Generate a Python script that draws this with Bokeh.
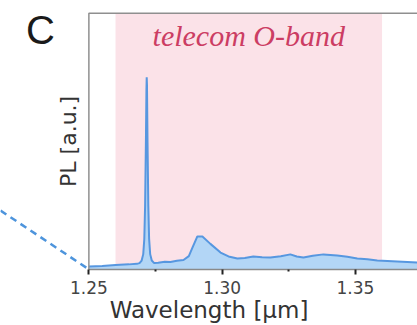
import math
from bokeh.plotting import figure
from bokeh.models import BoxAnnotation, Label, Range1d, FixedTicker, ColumnDataSource
from bokeh.embed import file_html
from bokeh.resources import INLINE

# ---- data ----
wavelength = [1.2500, 1.2550, 1.2600, 1.2650, 1.2680, 1.2690, 1.2698, 1.2704,
              1.2708, 1.2711, 1.2714, 1.2716, 1.2717, 1.2718, 1.2720, 1.2723,
              1.2726, 1.2730, 1.2736, 1.2745, 1.2760, 1.2785, 1.2806, 1.2830,
              1.2855, 1.2875, 1.2889, 1.2907, 1.2926, 1.2956, 1.2994, 1.3024,
              1.3057, 1.3085, 1.3117, 1.3150, 1.3181, 1.3220, 1.3256, 1.3280,
              1.3305, 1.3340, 1.3380, 1.3432, 1.3470, 1.3507, 1.3545, 1.3582,
              1.3620, 1.3657, 1.3695, 1.3733]
pl = [0.012, 0.014, 0.018, 0.020, 0.022, 0.025, 0.035, 0.060,
      0.120, 0.250, 0.500, 0.700, 0.750, 0.720, 0.500, 0.250,
      0.120, 0.060, 0.035, 0.025, 0.026, 0.030, 0.029, 0.034,
      0.037, 0.052, 0.086, 0.129, 0.129, 0.100, 0.066, 0.051,
      0.043, 0.045, 0.051, 0.048, 0.047, 0.052, 0.059, 0.051,
      0.047, 0.054, 0.059, 0.055, 0.050, 0.043, 0.040, 0.035,
      0.033, 0.031, 0.029, 0.027]
band = [1.26, 1.36]
band_label = "telecom O-band"
x_ticks = [1.25, 1.30, 1.35]
x_minor_ticks = [1.275, 1.325]
x_label = "Wavelength [µm]"
y_label = "PL [a.u.]"
panel_letter = "C"
axes_x = [1.25, 1.3733]      # data extent of the axes box
axes_y = [0.0, 1.0]
# dashed zoom-connector line coming in from the left panel
zoom_line_x = [1.2131, 1.2495]
zoom_line_y = [0.256, 0.004]

# ---- layout constants (pixels) ----
W, H = 417, 325
FRAME_BOTTOM_PX = 56
PX_PER_X = 2666.0            # px per µm unit
PX_PER_Y = 256.3             # px per PL unit
axes_left_px = 88.4

x0 = axes_x[0] - axes_left_px / PX_PER_X
x1 = axes_x[1]
y_end = (H - FRAME_BOTTOM_PX) / PX_PER_Y

def dx(px):  # pixel offset -> data x offset
    return px / PX_PER_X

def y_at(canvas_y):  # canvas y (from top) -> data y
    return (H - FRAME_BOTTOM_PX - canvas_y) / PX_PER_Y

src = ColumnDataSource(dict(x=wavelength, y=pl, base=[0.0] * len(pl)))

p = figure(width=W, height=H, output_backend="svg", toolbar_location=None,
           x_range=Range1d(x0, x1), y_range=Range1d(0, y_end),
           min_border_left=0, min_border_right=0, min_border_top=0,
           min_border_bottom=FRAME_BOTTOM_PX)
p.outline_line_color = None
p.grid.visible = False
p.yaxis.visible = False

# pink band
p.add_layout(BoxAnnotation(left=band[0], right=band[1], bottom=axes_y[0], top=axes_y[1],
                           fill_color="#fbe2e8", fill_alpha=1.0, line_color=None,
                           level="underlay"))

# spectrum
p.varea(x="x", y1="base", y2="y", source=src, fill_color="#b3d6f6", fill_alpha=1.0)
p.line(x="x", y="y", source=src, line_color="#5797e0", line_width=2)

# left and top spines
p.line(x=[axes_x[0], axes_x[0], axes_x[1]], y=[axes_y[0], axes_y[1], axes_y[1]],
       line_color="#8f8f8f", line_width=1.5)

# dashed connector
p.line(x=zoom_line_x, y=zoom_line_y, line_color="#4d94dc", line_width=2.5,
       line_dash="7 5")

# x axis
xa = p.xaxis[0]
xa.bounds = (axes_x[0], axes_x[1])
xa.ticker = FixedTicker(ticks=x_ticks, minor_ticks=x_minor_ticks)
xa.major_label_overrides = {1.25: "1.25", 1.30: "1.30", 1.35: "1.35"}
xa.axis_line_color = "#8a8a8a"
xa.axis_line_width = 1.5
xa.major_tick_line_color = "#222222"
xa.major_tick_line_width = 2
xa.major_tick_out = 5
xa.major_tick_in = 0
xa.minor_tick_line_color = "#222222"
xa.minor_tick_line_width = 2
xa.minor_tick_out = 2
xa.minor_tick_in = 0
xa.major_label_text_font = "DejaVu Sans"
xa.major_label_text_font_size = "17px"
xa.major_label_text_color = "#444444"
xa.major_label_standoff = 6
xa.axis_label = x_label
xa.axis_label_text_font = "DejaVu Sans"
xa.axis_label_text_font_size = "23px"
xa.axis_label_text_font_style = "normal"
xa.axis_label_text_color = "#333333"
xa.axis_label_standoff = 0

# y label (rotated)
p.add_layout(Label(x=axes_x[0] - dx(20), y=(axes_y[0] + axes_y[1]) / 2,
                   text=y_label, angle=math.pi / 2, text_align="center",
                   text_baseline="middle", text_font="DejaVu Sans",
                   text_font_size="22px", text_color="#333333"))

# band title
p.add_layout(Label(x=(band[0] + band[1]) / 2, y=y_at(35), text=band_label,
                   text_align="center", text_baseline="middle",
                   text_font="Liberation Serif", text_font_style="italic",
                   text_font_size="30px", text_color="#cc3d63"))

# panel letter
p.add_layout(Label(x=axes_x[0] - dx(63), y=y_at(29), text=panel_letter,
                   text_align="left", text_baseline="middle",
                   text_font="Liberation Sans", text_font_size="40px",
                   text_color="#1a1a1a"))

open("out.html", "w").write(file_html(p, INLINE))
